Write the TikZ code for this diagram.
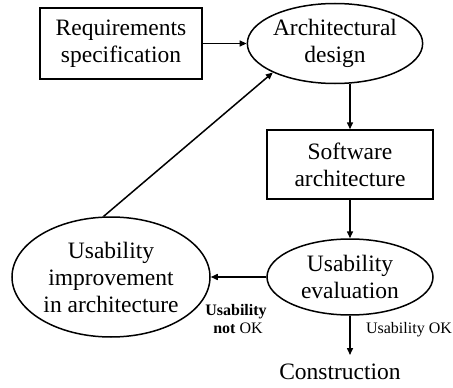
\documentclass[tikz,border=0pt]{standalone}
\usepackage{fontspec}
\setmainfont{Liberation Serif}
\usetikzlibrary{shapes.geometric,arrows.meta}
\tikzset{
  big/.style={font=\fontsize{23.5}{27}\selectfont, align=center},
  small/.style={font=\fontsize{16}{17}\selectfont, inner sep=0pt},
  boxnode/.style={big, draw, line width=1.5pt, rectangle, inner sep=0pt},
  ellnode/.style={big, draw, line width=1.5pt, ellipse, inner sep=0pt},
  arr/.style={line width=1.5pt, -{Triangle[length=7pt,width=6pt]}},
  plain/.style={line width=1.5pt}
}
\begin{document}
\begin{tikzpicture}[x=1pt,y=-1pt]
  \useasboundingbox (0,0) rectangle (453,388);
  % process steps
  \node[boxnode, minimum width=162pt, minimum height=71pt] (req) at (121,43.5)
    {Requirements\\specification};
  \node[ellnode, minimum width=140pt, minimum height=80pt] (arch) at (335,43.5)
    {Architectural\\design};
  \node[boxnode, minimum width=166pt, minimum height=69pt] (sw) at (350,164.5)
    {Software\\architecture};
  \node[ellnode, minimum width=166pt, minimum height=76pt] (eval) at (350,277)
    {Usability\\evaluation};
  \node[ellnode, minimum width=198pt, minimum height=120pt] (imp) at (111,277)
    {Usability\\improvement\\in architecture};
  \node[big, inner sep=0pt, anchor=north] (cons) at (340,364) {Construction};
  % outcome labels
  \node[small, font=\fontsize{16}{17}\selectfont\bfseries] (nokA) at (236,312) {Usability};
  \node[small] (nokB) at (238,328) {\textbf{not} OK};
  \node[small] (ok) at (409,330) {Usability OK};
  % flow
  \draw[arr] (req.east) -- (arch.west);
  \draw[arr] (arch.south -| sw.north) -- (sw.north);
  \draw[arr] (sw.south) -- (eval.north);
  \draw[arr] (eval.west) -- (imp.east);
  \draw[arr] (eval.south) -- ([yshift=9pt]eval.south |- cons.north);
  \draw[arr] (imp.97) -- (arch.205);
\end{tikzpicture}
\end{document}
